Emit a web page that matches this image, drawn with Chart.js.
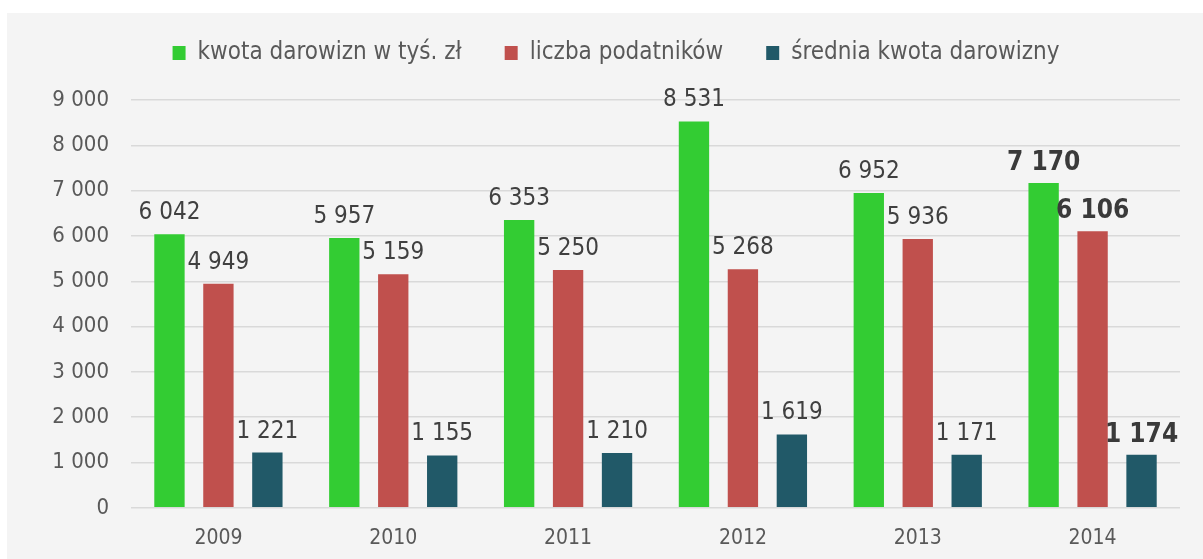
<!DOCTYPE html>
<html>
<head>
<meta charset="utf-8">
<script src="https://cdn.jsdelivr.net/npm/chart.js@4/dist/chart.umd.min.js"></script>
<style>
  html, body { margin: 0; padding: 0; background: #fff; }
  #wrap { position: relative; width: 1203px; height: 559px; }
  canvas { display: block; }
</style>
</head>
<body>
<div id="wrap"><canvas id="myChart" width="1203" height="559"></canvas></div>
<script>
// ===== data =====
const years = ["2009", "2010", "2011", "2012", "2013", "2014"];
const kwotaDarowizn = [6042, 5957, 6353, 8531, 6952, 7170];
const liczbaPodatnikow = [4949, 5159, 5250, 5268, 5936, 6106];
const sredniaKwota = [1221, 1155, 1210, 1619, 1171, 1174];
const yTicks = [0, 1000, 2000, 3000, 4000, 5000, 6000, 7000, 8000, 9000];

const FONT = "'DejaVu Sans Condensed', 'Liberation Sans Narrow', 'DejaVu Sans', sans-serif";

// 6042 -> "6 042"
function fmt(v) {
  return String(v).replace(/\B(?=(\d{3})+(?!\d))/g, " ");
}

// szare tło panelu
const panelBg = {
  id: "panelBg",
  beforeDraw(chart) {
    const ctx = chart.ctx;
    ctx.save();
    ctx.fillStyle = "#f4f4f4";
    ctx.fillRect(7, 13, chart.width - 7, chart.height - 13);
    ctx.restore();
  },
};

// etykiety wartości nad słupkami
const valueLabels = {
  id: "valueLabels",
  afterDatasetsDraw(chart) {
    const ctx = chart.ctx;
    ctx.save();
    ctx.textAlign = "center";
    ctx.textBaseline = "alphabetic";
    chart.data.datasets.forEach((ds, i) => {
      const meta = chart.getDatasetMeta(i);
      meta.data.forEach((bar, j) => {
        const last = j === ds.data.length - 1;
        ctx.font = (last ? "bold 26px " : "24px ") + FONT;
        ctx.fillStyle = last ? "#3a3a3a" : "#404040";
        ctx.fillText(fmt(ds.data[j]), bar.x, bar.y - (last ? 13 : 15));
      });
    });
    ctx.restore();
  },
};

const canvas = document.getElementById("myChart");
const myChart = new Chart(canvas.getContext("2d"), {
  type: "bar",
  data: {
    labels: years,
    datasets: [
      { label: "kwota darowizn w tyś. zł", data: kwotaDarowizn, backgroundColor: "#33cc33" },
      { label: "liczba podatników", data: liczbaPodatnikow, backgroundColor: "#c0504d" },
      { label: "średnia kwota darowizny", data: sredniaKwota, backgroundColor: "#215968" },
    ],
  },
  options: {
    responsive: false,
    animation: false,
    devicePixelRatio: 1,
    categoryPercentage: 0.84,
    barPercentage: 0.62,
    layout: { padding: { left: 52, right: 23, top: -2, bottom: -2 } },
    plugins: {
      tooltip: { enabled: false },
      legend: {
        display: true,
        position: "top",
        labels: {
          boxWidth: 13,
          boxHeight: 14,
          padding: 43,
          color: "#595959",
          font: { family: FONT, size: 24 },
        },
      },
      // pusty odstęp między legendą a wykresem
      subtitle: {
        display: true,
        text: "",
        weight: 500,
        font: { size: 1 },
        padding: { top: 0, bottom: 24 },
      },
    },
    scales: {
      x: {
        grid: { display: false },
        border: { display: false },
        ticks: { color: "#595959", font: { family: FONT, size: 21 }, padding: 10 },
      },
      y: {
        min: 0,
        max: 9000,
        afterBuildTicks(scale) {
          scale.ticks = yTicks.map((v) => ({ value: v }));
        },
        afterFit(scale) {
          scale.width = 79;
        },
        grid: { color: "#d9d9d9", lineWidth: 1.5, drawTicks: false },
        border: { display: false },
        ticks: {
          color: "#595959",
          padding: 22,
          font: { family: FONT, size: 22 },
          callback: (v) => fmt(v),
        },
      },
    },
  },
  plugins: [panelBg, valueLabels],
});
</script>
</body>
</html>
